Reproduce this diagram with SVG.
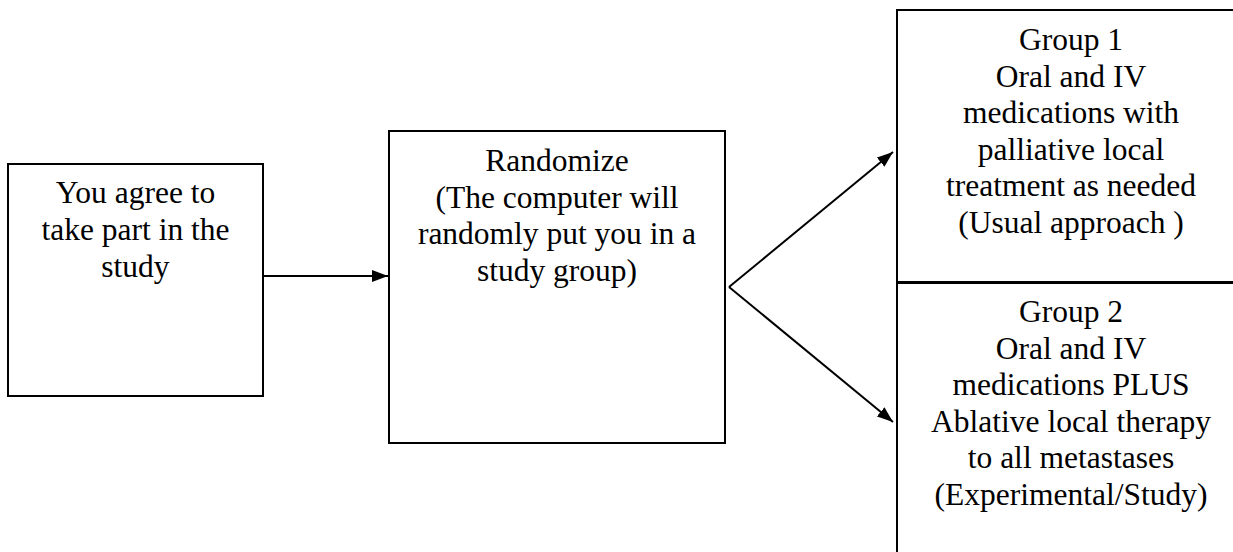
<svg xmlns="http://www.w3.org/2000/svg" width="1233" height="552" viewBox="0 0 1233 552">
<style>
.box{fill:#fff;stroke:#000;stroke-width:2}
.t{font-family:"Liberation Serif","Times New Roman",serif;font-size:31.5px;fill:#000;text-anchor:middle}
.c{stroke:#000;stroke-width:2;fill:none}
</style>
<defs>
<marker id="ah" viewBox="0 0 16 12" refX="16" refY="6" markerWidth="16" markerHeight="12" markerUnits="userSpaceOnUse" orient="auto">
<path d="M0,0 L16,6 L0,12 z" fill="#000"/>
</marker>
</defs>
<rect width="1233" height="552" fill="#fff"/>
<g id="node-agree">
<rect class="box" x="8" y="164" width="255" height="232"/>
<text class="t" x="135.5" y="203">You agree to</text>
<text class="t" x="135.5" y="240">take part in the</text>
<text class="t" x="135.5" y="277">study</text>
</g>
<g id="node-randomize">
<rect class="box" x="389" y="131" width="336" height="312"/>
<text class="t" x="557" y="171">Randomize</text>
<text class="t" x="557" y="207.5">(The computer will</text>
<text class="t" x="557" y="244">randomly put you in a</text>
<text class="t" x="557" y="280.5">study group)</text>
</g>
<g id="node-group1">
<rect class="box" x="897" y="10" width="350" height="272"/>
<text class="t" x="1071" y="50">Group 1</text>
<text class="t" x="1071" y="86.6">Oral and IV</text>
<text class="t" x="1071" y="123.2">medications with</text>
<text class="t" x="1071" y="159.8">palliative local</text>
<text class="t" x="1071" y="196.4">treatment as needed</text>
<text class="t" x="1071" y="233">(Usual approach )</text>
</g>
<g id="node-group2">
<rect class="box" x="897" y="283" width="350" height="280"/>
<text class="t" x="1071" y="322">Group 2</text>
<text class="t" x="1071" y="358.5">Oral and IV</text>
<text class="t" x="1071" y="395">medications PLUS</text>
<text class="t" x="1071" y="431.5">Ablative local therapy</text>
<text class="t" x="1071" y="468">to all metastases</text>
<text class="t" x="1071" y="504.5">(Experimental/Study)</text>
</g>
<g id="connectors">
<line class="c" x1="263" y1="276" x2="388" y2="276" marker-end="url(#ah)"/>
<line class="c" x1="729" y1="287" x2="893" y2="152" marker-end="url(#ah)"/>
<line class="c" x1="729" y1="287" x2="893" y2="422" marker-end="url(#ah)"/>
</g>
</svg>
